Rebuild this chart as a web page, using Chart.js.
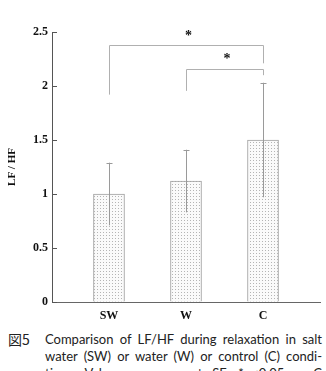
<!DOCTYPE html>
<html>
<head>
<meta charset="utf-8">
<script src="https://cdn.jsdelivr.net/npm/chart.js@4.4.1/dist/chart.umd.min.js"></script>
<style>
  html, body { margin: 0; padding: 0; background: #fff; width: 326px; height: 371px; overflow: hidden; }
  #wrap { position: absolute; left: 0; top: 0; width: 326px; height: 325px; }
  #cap { position: absolute; left: 0; top: 331px; width: 326px; font-family: Lato, "DejaVu Sans", sans-serif; font-size: 13px; line-height: 17px; color: #222; }
  #cap .num { position: absolute; left: 8px; top: 0; font-family: "Noto Sans CJK JP", Lato, sans-serif; font-size: 14px; }
  #cap .body { position: absolute; left: 45px; top: 0; width: 277px; }
  #cap .ln { text-align: justify; text-align-last: justify; white-space: nowrap; }
</style>
</head>
<body>
<div id="wrap"><canvas id="c"></canvas></div>
<div id="cap">
  <div class="num">図5</div>
  <div class="body">
    <div class="ln">Comparison of LF/HF during relaxation in salt</div>
    <div class="ln">water (SW) or water (W) or control (C) condi-</div>
    <div class="ln">tions. Values are mean ± SE. *p&lt;0.05 vs C</div>
  </div>
</div>
<script>
// ---- data ----
const categories = ['SW', 'W', 'C'];
const means = [1.00, 1.12, 1.50];
const se = [0.29, 0.29, 0.53];
const yTicks = [0, 0.5, 1, 1.5, 2, 2.5];
// significance brackets: [fromIndex, toIndex, barLevel, leftLegEnd, rightLegEnd, starLevel]
const bracketFrom = [0, 1];
const bracketTo = [2, 2];
const bracketLevel = [2.38, 2.157];
const bracketLeftEnd = [1.92, 1.955];
const bracketRightEnd = [2.21, 2.10];
const starLevel = [2.485, 2.27];
const starText = ['*', '*'];

// dotted pattern
function makePattern() {
  const p = document.createElement('canvas');
  p.width = 3; p.height = 3;
  const g = p.getContext('2d');
  g.fillStyle = '#fafafa';
  g.fillRect(0, 0, 3, 3);
  g.fillStyle = '#b4b4b4';
  g.fillRect(1, 1, 1, 1);
  return g.createPattern(p, 'repeat');
}

const serif = '"Liberation Serif", "Times New Roman", serif';

const overlay = {
  id: 'overlay',
  afterDatasetsDraw(chart) {
    const ctx = chart.ctx;
    const xs = chart.scales.x, ys = chart.scales.y;
    ctx.save();
    // error bars
    ctx.strokeStyle = '#9a9a9a';
    ctx.lineWidth = 1;
    means.forEach((m, i) => {
      const x = Math.round(xs.getPixelForValue(i)) + 0.5;
      const yt = ys.getPixelForValue(m + se[i]);
      const yb = ys.getPixelForValue(m - se[i]);
      ctx.beginPath();
      ctx.moveTo(x, yb); ctx.lineTo(x, yt);
      ctx.moveTo(x - 3, Math.round(yt) + 0.5); ctx.lineTo(x + 3, Math.round(yt) + 0.5);
      ctx.stroke();
    });
    // brackets
    ctx.strokeStyle = '#b0b0b0';
    bracketFrom.forEach((f, k) => {
      const x1 = Math.round(xs.getPixelForValue(f)) + 0.5;
      const x2 = Math.round(xs.getPixelForValue(bracketTo[k])) + 0.5;
      const yl = Math.round(ys.getPixelForValue(bracketLevel[k])) + 0.5;
      ctx.beginPath();
      ctx.moveTo(x1, ys.getPixelForValue(bracketLeftEnd[k]));
      ctx.lineTo(x1, yl);
      ctx.lineTo(x2, yl);
      ctx.lineTo(x2, ys.getPixelForValue(bracketRightEnd[k]));
      ctx.stroke();
      ctx.fillStyle = '#111';
      ctx.font = 'bold 14px ' + serif;
      ctx.textAlign = 'center';
      ctx.textBaseline = 'middle';
      ctx.fillText(starText[k], (x1 + x2) / 2 + 2, ys.getPixelForValue(starLevel[k]) + 3);
    });
    // inward y ticks
    ctx.strokeStyle = '#555';
    const x0 = xs.left;
    ys.ticks.forEach((t) => {
      const y = Math.round(ys.getPixelForValue(t.value)) + 0.5;
      ctx.beginPath();
      ctx.moveTo(x0, y); ctx.lineTo(x0 + 5, y);
      ctx.stroke();
    });
    ctx.restore();
  }
};

new Chart(document.getElementById('c'), {
  type: 'bar',
  data: {
    datasets: [{
      data: means.map((m, i) => ({ x: i, y: m })),
      backgroundColor: makePattern(),
      borderColor: '#a0a0a0',
      borderWidth: 1,
      barThickness: 31
    }]
  },
  options: {
    responsive: true,
    maintainAspectRatio: false,
    animation: false,
    layout: { padding: { left: 0, right: 6, top: 32, bottom: 0 } },
    plugins: { legend: { display: false }, tooltip: { enabled: false } },
    scales: {
      x: {
        type: 'linear',
        offset: false,
        min: -0.74,
        max: 2.74,
        afterBuildTicks: (s) => { s.ticks = categories.map((c, i) => ({ value: i })); },
        afterFit: (s) => { s.height = 23; },
        ticks: {
          callback: (v) => categories[v],
          color: '#111',
          font: { family: serif, weight: 'bold', size: 12 },
          padding: 7,
          maxRotation: 0
        },
        grid: { display: true, drawOnChartArea: false, drawTicks: false, offset: false },
        border: { display: true, color: '#666', width: 1 }
      },
      y: {
        min: 0,
        max: 2.5,
        afterBuildTicks: (s) => { s.ticks = yTicks.map(v => ({ value: v })); },
        afterFit: (s) => { s.width = 52; },
        ticks: {
          callback: (v) => String(v),
          color: '#111',
          font: { family: serif, weight: 'bold', size: 12 },
          padding: 4
        },
        grid: { display: true, drawOnChartArea: false, drawTicks: false },
        border: { display: true, color: '#555', width: 1 },
        title: {
          display: true,
          text: 'LF / HF',
          color: '#111',
          font: { family: serif, weight: 'bold', size: 11 },
          padding: { top: 6, bottom: 0 }
        }
      }
    }
  },
  plugins: [overlay]
});
</script>
</body>
</html>
